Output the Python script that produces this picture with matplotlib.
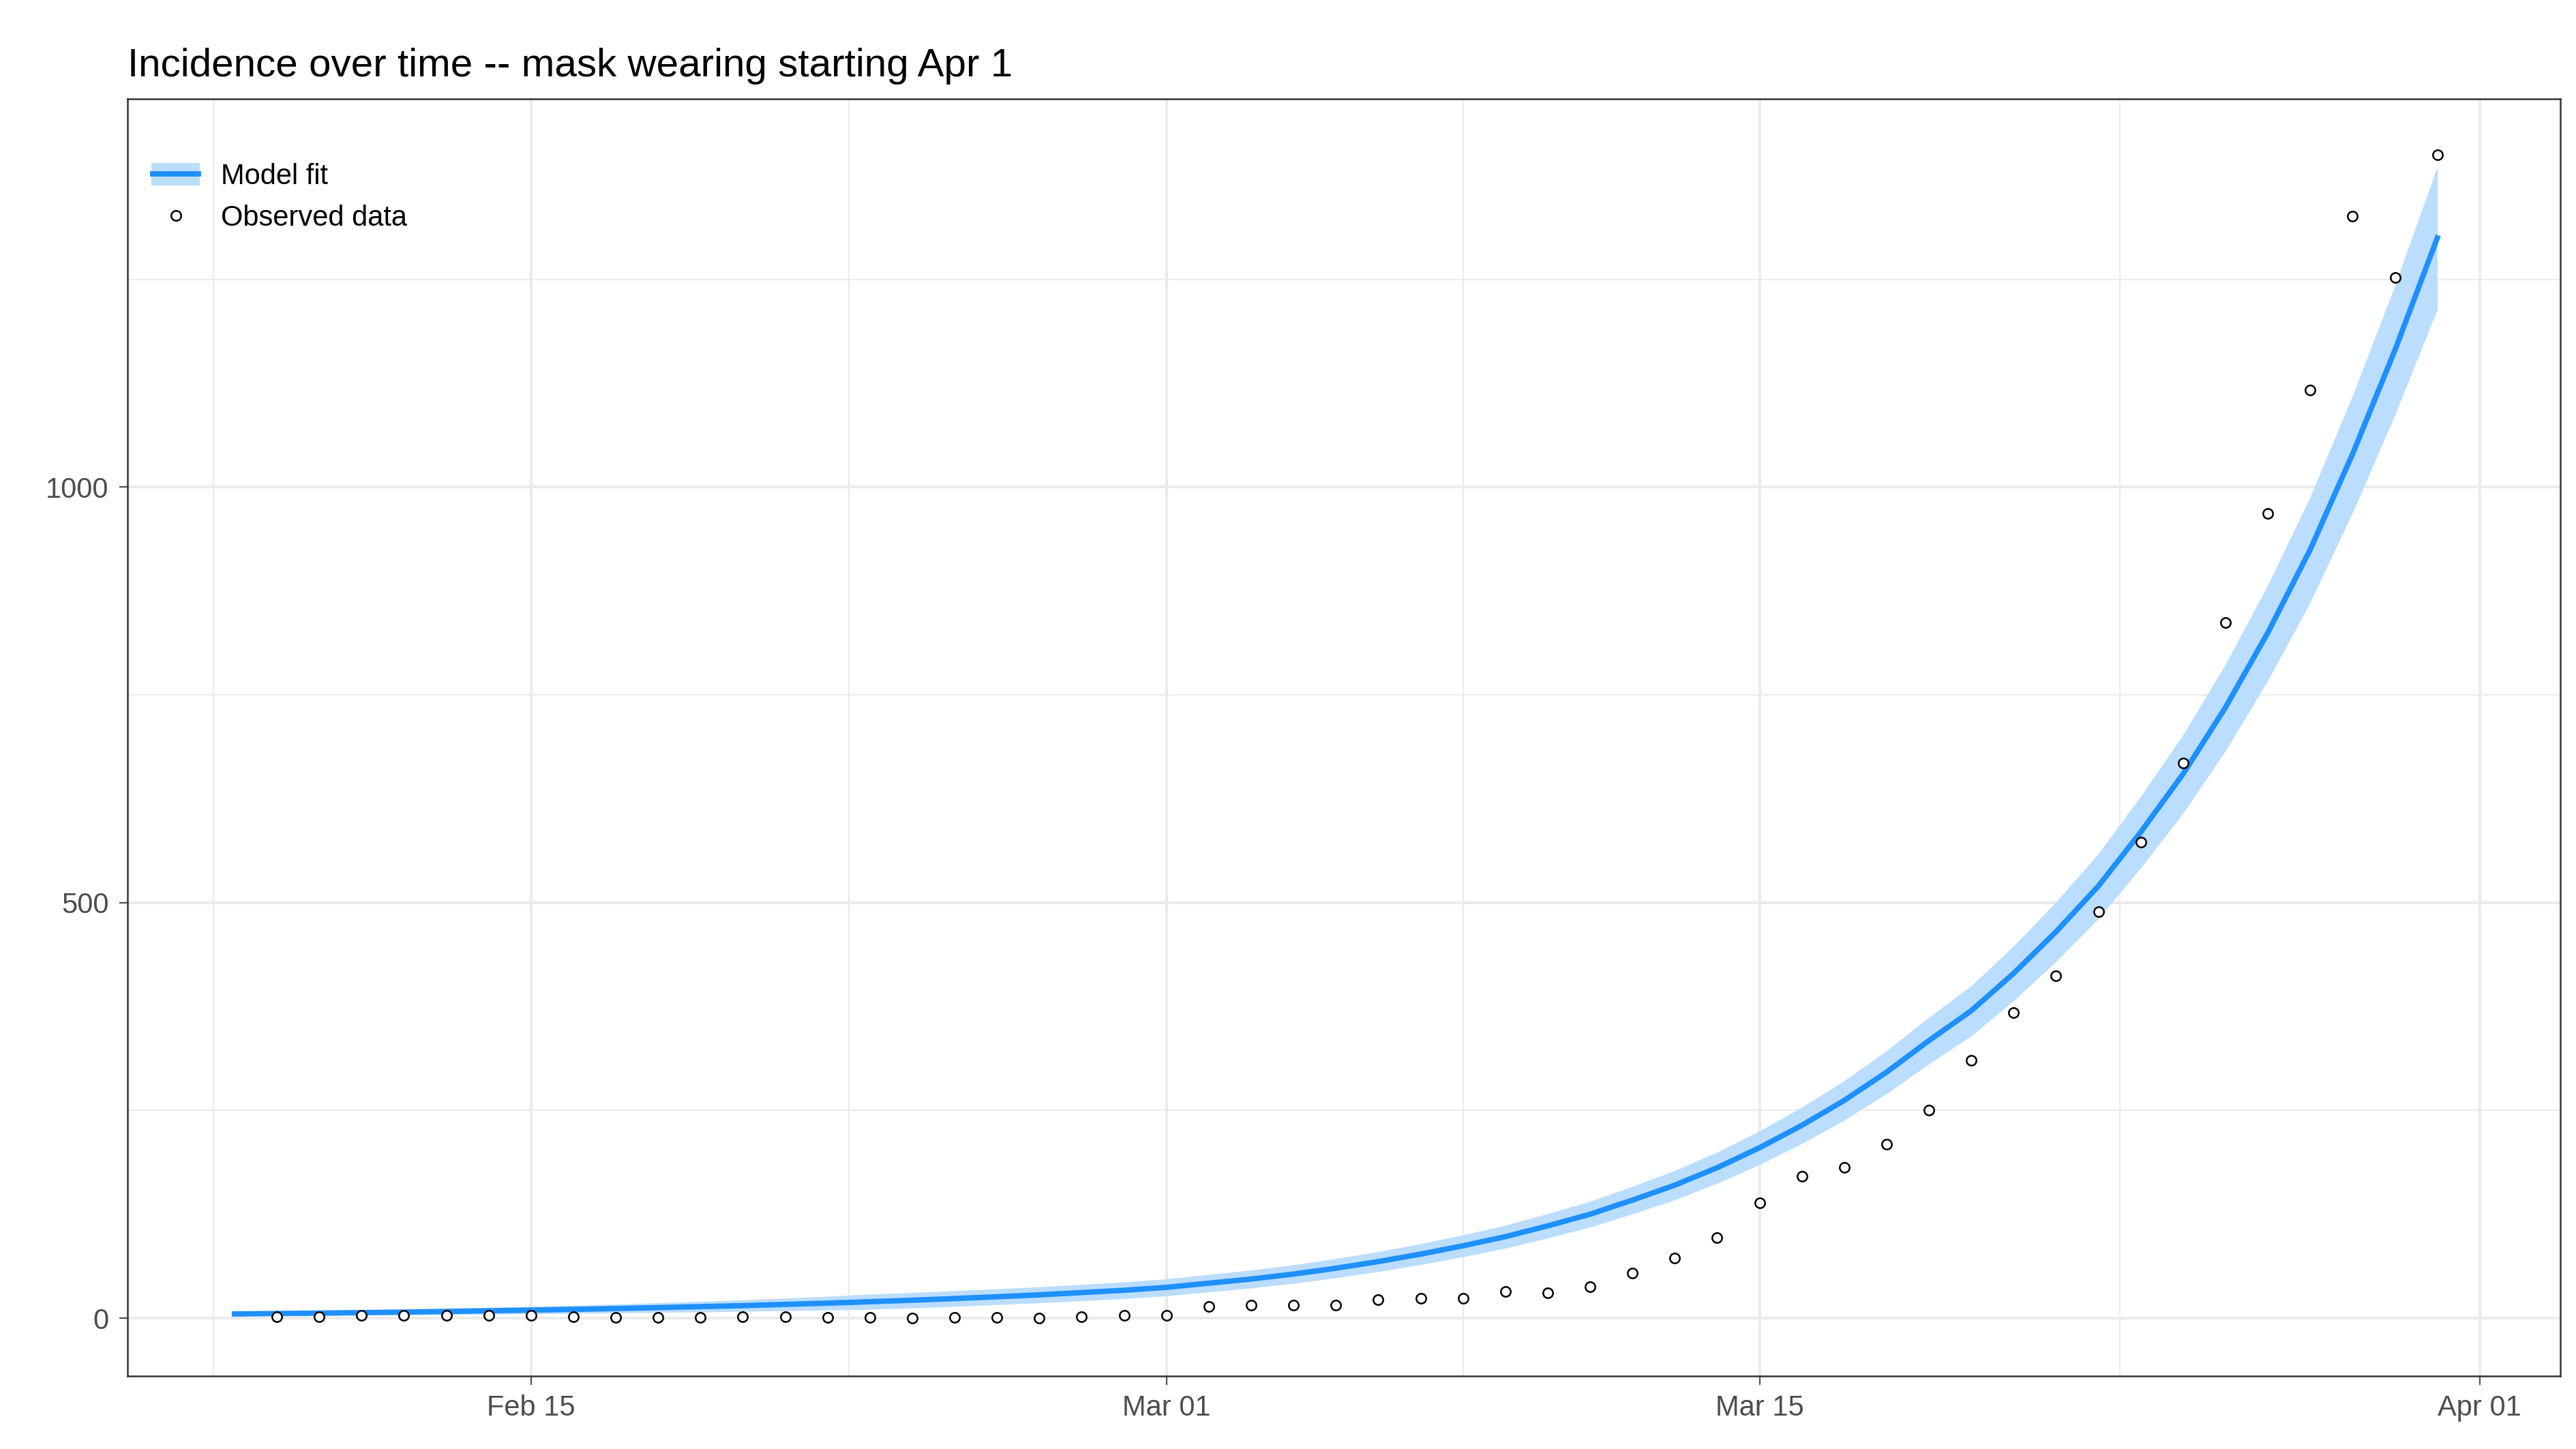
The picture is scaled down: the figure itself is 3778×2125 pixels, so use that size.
import numpy as np
import matplotlib.pyplot as plt
import matplotlib.dates as mdates
from matplotlib.lines import Line2D
from matplotlib.patches import Patch
import datetime as dt

plt.rcParams['font.family'] = ['Liberation Sans', 'DejaVu Sans']

# model fit, daily from Feb 8 2020 to Mar 31 2020
fit_start = dt.date(2020, 2, 8)
fit = [5, 5.5, 6, 6.6, 7.2, 8, 8.8, 9.6, 10.5, 11.5, 12.6, 13.8, 15, 16.5, 18,
       19.7, 21.5, 23.5, 25.7, 28, 30.7, 33.5,
       37, 42, 47, 53, 60, 68, 77, 87, 98, 111, 125, 142, 160, 181, 205,
       232, 262, 296, 334, 370, 415, 465, 520, 585, 655, 735, 825, 925, 1040, 1165, 1300]
band_rel = 0.06
band_abs = 8

# observed data, daily from Feb 9 2020 to Mar 31 2020
obs_start = dt.date(2020, 2, 9)
observed = [2, 2, 3, 3, 3, 3, 3, 2, 1, 1, 1, 2, 2, 1, 1, 0, 1, 1, 0, 2, 3, 3,
            14, 16, 16, 16, 22, 24, 24, 32, 30, 38, 54, 72, 97, 139,
            171, 181, 209, 250, 310, 368, 412, 489, 573, 668, 837, 968,
            1117, 1326, 1252, 1400]

fit_dates = [fit_start + dt.timedelta(days=i) for i in range(len(fit))]
obs_dates = [obs_start + dt.timedelta(days=i) for i in range(len(observed))]
fit = np.array(fit, dtype=float)
half = fit * band_rel + band_abs * np.minimum(1, fit / 20)

fig = plt.figure(figsize=(3779 / 300, 2125 / 300), dpi=300)
ax = fig.add_axes([0.0494, 0.0502, 0.9442, 0.8814])

ax.fill_between(fit_dates, fit - half, fit + half, color="#BBDDFF", lw=0)
ax.plot(fit_dates, fit, color="#1E90FF", lw=1.9)
ax.scatter(obs_dates, observed, s=12, facecolors="white", edgecolors="black", linewidths=0.6, zorder=3)

ax.set_xlim(mdates.date2num(dt.date(2020, 2, 15)) - 9.53, mdates.date2num(dt.date(2020, 3, 15)) + 18.9)
ax.set_ylim(-70, 1467)

majors = [dt.date(2020, 2, 15), dt.date(2020, 3, 1), dt.date(2020, 3, 15), dt.date(2020, 4, 1)]
mj = mdates.date2num(majors)
ax.set_xticks(mj)
ax.set_xticklabels(["Feb 15", "Mar 01", "Mar 15", "Apr 01"])
ax.set_xticks([mj[0] - 7.5] + list((mj[:-1] + mj[1:]) / 2), minor=True)
ax.set_yticks([0, 500, 1000])
ax.set_yticks([250, 750, 1250], minor=True)

ax.grid(which="major", color="#EBEBEB", lw=1.0)
ax.grid(which="minor", color="#EBEBEB", lw=0.5)
ax.set_axisbelow(True)
ax.tick_params(which="major", labelsize=10, colors="#4D4D4D", length=3, width=0.5)
ax.tick_params(which="minor", length=0)
for s in ax.spines.values():
    s.set_color("#333333")
    s.set_linewidth(0.6)

ax.set_title("Incidence over time -- mask wearing starting Apr 1", loc="left", fontsize=14, pad=8)

handles = [(Patch(color="#BBDDFF"), Line2D([], [], color="#1E90FF", lw=1.9)),
           Line2D([], [], marker="o", ls="none", markersize=3.5, markerfacecolor="white",
                  markeredgecolor="black", markeredgewidth=0.6)]
ax.legend(handles, ["Model fit", "Observed data"], loc="upper left", frameon=False,
          fontsize=10, bbox_to_anchor=(0.0, 0.97), handlelength=1.6)

fig.savefig("out.png", dpi=300)
